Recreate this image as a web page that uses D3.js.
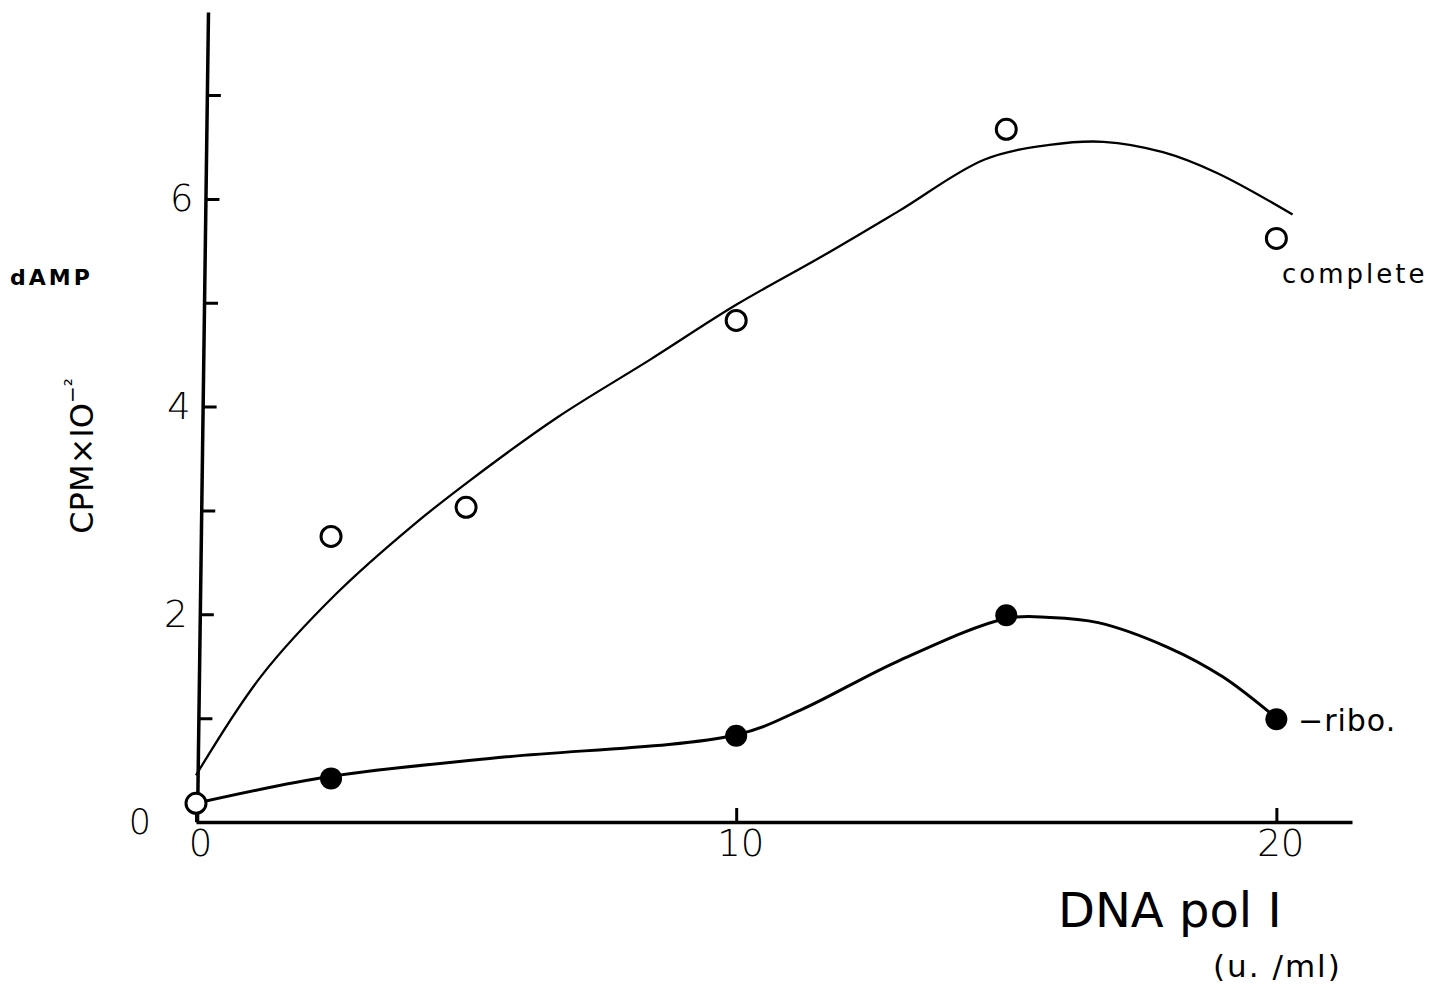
<!DOCTYPE html>
<html>
<head>
<meta charset="utf-8">
<script src="https://cdn.jsdelivr.net/npm/d3@7"></script>
<style>
  body { margin: 0; background: #fff; }
  svg { display: block; }
  text { font-family: "DejaVu Sans", sans-serif; fill: #000; }
</style>
</head>
<body>
<div id="chart"></div>
<script>
// measured points (DNA pol I u./ml vs CPM x 10^-2)
var doseComplete = [0, 2.5, 5, 10, 15, 20];
var cpmComplete = [0.18, 2.75, 3.03, 4.83, 6.67, 5.62];
var doseRibo = [2.5, 10, 15, 20];
var cpmRibo = [0.42, 0.83, 1.99, 0.99];

// hand drawn fit curves
var fitCompleteX = [0, 1.2, 2.6, 4.0, 5.1, 6.7, 8.4, 10.0, 11.6, 13.0, 14.6, 15.8, 16.8, 17.9, 18.9, 20.3];
var fitCompleteY = [0.45, 1.4, 2.2, 2.85, 3.3, 3.9, 4.45, 4.98, 5.45, 5.88, 6.38, 6.52, 6.55, 6.45, 6.25, 5.85];
var fitRiboX = [0, 2.5, 5.6, 10.0, 11.2, 13.0, 15.0, 15.8, 16.7, 18.0, 19.0, 20.0];
var fitRiboY = [0.18, 0.44, 0.62, 0.84, 1.08, 1.55, 1.96, 1.97, 1.92, 1.68, 1.4, 1.0];

var yTicks = [1, 2, 3, 4, 5, 6, 7];
var yLabels = [2, 4, 6];
var xTicks = [0, 10, 20];

var width = 1432, height = 984;

var svg = d3.select('#chart')
  .append('svg')
  .attr('width', width)
  .attr('height', height);

var x = d3.scaleLinear()
  .domain([0, 21.4])
  .range([196, 1352]);

var y = d3.scaleLinear()
  .domain([0, 7.8])
  .range([822, 12]);

// y axis, a little tilted like the original drawing
var tilt = 11 / 810;
var yAxis = d3.axisLeft(y)
  .tickValues(yTicks)
  .tickSizeInner(-14)
  .tickSizeOuter(0)
  .tickPadding(12)
  .tickFormat(function (d) {
    return yLabels.indexOf(d) >= 0 ? d : '';
  });

svg.append('g')
  .attr('class', 'y axis')
  .attr('transform', 'translate(' + (197 + 822 * tilt) + ',0) skewX(' + (-Math.atan(tilt) * 180 / Math.PI) + ')')
  .call(yAxis)
  .call(function (g) {
    g.select('.domain').attr('stroke-width', 3.5);
    g.selectAll('.tick line').attr('stroke-width', 3);
    g.selectAll('.tick text').style('font-size', '37px').attr('font-weight', 300);
  });

var xAxis = d3.axisBottom(x)
  .tickValues(xTicks)
  .tickSizeInner(-14)
  .tickSizeOuter(0)
  .tickPadding(8);

svg.append('g')
  .attr('class', 'x axis')
  .attr('transform', 'translate(0,' + y(0) + ')')
  .call(xAxis)
  .call(function (g) {
    g.select('.domain').attr('stroke-width', 3.5);
    g.selectAll('.tick line').attr('stroke-width', 3);
    g.selectAll('.tick text').style('font-size', '37px').attr('font-weight', 300)
      .attr('dx', 4);
  });

// y zero label sits far left
svg.append('text')
  .attr('x', 140)
  .attr('y', y(0))
  .attr('dy', '0.35em')
  .attr('text-anchor', 'middle')
  .attr('font-weight', 300)
  .style('font-size', '35px')
  .text('0');

var line = d3.line()
  .x(function (d) { return x(d[0]); })
  .y(function (d) { return y(d[1]); })
  .curve(d3.curveCatmullRom.alpha(0.5));

svg.append('path')
  .datum(d3.zip(fitCompleteX, fitCompleteY))
  .attr('d', line)
  .attr('fill', 'none')
  .attr('stroke', '#000')
  .attr('stroke-width', 2.3);

svg.append('path')
  .datum(d3.zip(fitRiboX, fitRiboY))
  .attr('d', line)
  .attr('fill', 'none')
  .attr('stroke', '#000')
  .attr('stroke-width', 3);

svg.selectAll('circle.ribo')
  .data(d3.zip(doseRibo, cpmRibo))
  .enter()
  .append('circle')
  .attr('class', 'ribo')
  .attr('cx', function (d) { return x(d[0]); })
  .attr('cy', function (d) { return y(d[1]); })
  .attr('r', 11)
  .style('fill', '#000');

svg.selectAll('circle.complete')
  .data(d3.zip(doseComplete, cpmComplete))
  .enter()
  .append('circle')
  .attr('class', 'complete')
  .attr('cx', function (d) { return x(d[0]); })
  .attr('cy', function (d) { return y(d[1]); })
  .attr('r', 10)
  .style('fill', '#fff')
  .attr('stroke', '#000')
  .attr('stroke-width', 3);

// series labels
svg.append('text')
  .attr('x', 1282)
  .attr('y', 283)
  .style('font-size', '26px')
  .style('letter-spacing', '3px')
  .text('complete');

svg.append('text')
  .attr('x', 1298)
  .attr('y', 731)
  .style('font-size', '30px')
  .style('letter-spacing', '1px')
  .text('\u2212ribo.');

// axis titles
svg.append('text')
  .attr('x', 10)
  .attr('y', 285)
  .style('font-size', '22px')
  .attr('font-weight', 'bold')
  .style('letter-spacing', '3px')
  .text('dAMP');

svg.append('text')
  .attr('transform', 'translate(93,456) rotate(-90)')
  .attr('text-anchor', 'middle')
  .style('font-size', '32px')
  .html('CPM\u00d7IO<tspan dy="-14" font-size="20px">\u2212\u00b2</tspan>');

svg.append('text')
  .attr('x', 1058)
  .attr('y', 927)
  .style('font-size', '48px')
  .text('DNA pol I');

svg.append('text')
  .attr('x', 1213)
  .attr('y', 977)
  .style('font-size', '31px')
  .style('letter-spacing', '2px')
  .text('(u. /ml)');
</script>
</body>
</html>
